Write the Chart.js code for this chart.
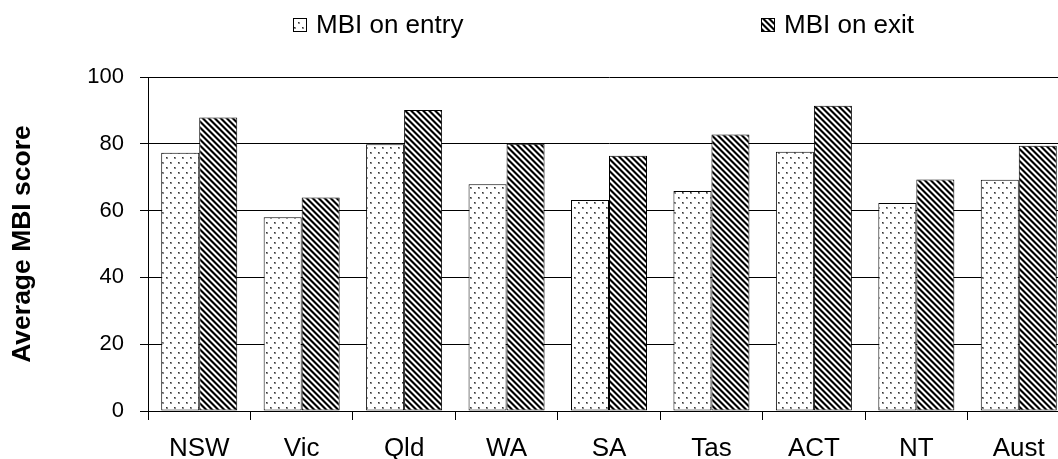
<!DOCTYPE html>
<html>
<head>
<meta charset="utf-8">
<script src="https://cdn.jsdelivr.net/npm/chart.js@4.4.1/dist/chart.umd.min.js"></script>
<style>
  html, body { margin: 0; padding: 0; background: #fff; overflow: hidden; }
  canvas { display: block; }
</style>
</head>
<body>
<canvas id="c" width="1070" height="459"></canvas>
<script>
// Average MBI score by state, on entry and on exit
const categories = ['NSW', 'Vic', 'Qld', 'WA', 'SA', 'Tas', 'ACT', 'NT', 'Aust'];
const entryScores = [77.3, 58.0, 79.9, 67.9, 63.2, 65.9, 77.6, 62.3, 69.2];
const exitScores  = [87.9, 63.9, 90.1, 80.0, 76.4, 82.8, 91.4, 69.3, 79.4];
const yTickValues = [0, 20, 40, 60, 80, 100];
const seriesNames = ['MBI on entry', 'MBI on exit'];
const axisTitle = 'Average MBI score';

const FONT = "'Liberation Sans', Arial, sans-serif";
const canvas = document.getElementById('c');
const mainCtx = canvas.getContext('2d');

// Sparse dot fill
function makeDots() {
  const t = document.createElement('canvas');
  t.width = 8; t.height = 10;
  const g = t.getContext('2d');
  g.fillStyle = '#fff'; g.fillRect(0, 0, 8, 10);
  g.fillStyle = '#8a8a8a';
  g.fillRect(2, 2, 2, 2); g.fillRect(6, 7, 2, 2);
  g.fillStyle = '#333';
  g.fillRect(2, 2, 1, 1); g.fillRect(6, 7, 1, 1);
  return mainCtx.createPattern(t, 'repeat');
}

// Downward diagonal stripes
function makeStripes() {
  const n = 6;
  const t = document.createElement('canvas');
  t.width = n; t.height = n;
  const g = t.getContext('2d');
  const shades = ['#000', '#000', '#808080', '#fff', '#fff', '#808080'];
  for (let y = 0; y < n; y++) {
    for (let x = 0; x < n; x++) {
      g.fillStyle = shades[((x - y) % n + n) % n];
      g.fillRect(x, y, 1, 1);
    }
  }
  return mainCtx.createPattern(t, 'repeat');
}

const fills = [makeDots(), makeStripes()];

// Legend row across the top
const topLegend = {
  id: 'topLegend',
  afterDraw(chart) {
    const ctx = chart.ctx;
    const slots = [293, 761];
    ctx.save();
    ctx.font = `26px ${FONT}`;
    ctx.textBaseline = 'alphabetic';
    seriesNames.forEach((name, i) => {
      const x = slots[i];
      ctx.fillStyle = fills[i];
      ctx.fillRect(x, 18, 14, 14);
      ctx.strokeStyle = '#000';
      ctx.lineWidth = 1;
      ctx.strokeRect(x + 0.5, 18.5, 13, 13);
      ctx.fillStyle = '#000';
      ctx.fillText(name, x + 23, 33);
    });
    ctx.restore();
  }
};

new Chart(canvas, {
  type: 'bar',
  data: {
    labels: categories,
    datasets: [
      { label: seriesNames[0], data: entryScores, backgroundColor: fills[0] },
      { label: seriesNames[1], data: exitScores, backgroundColor: fills[1] }
    ]
  },
  options: {
    responsive: false,
    animation: false,
    devicePixelRatio: 1,
    layout: { padding: { top: 77, right: 0, bottom: 0, left: 0 } },
    datasets: {
      bar: {
        borderColor: '#000',
        borderWidth: 1,
        borderSkipped: false,
        categoryPercentage: 0.742,
        barPercentage: 1
      }
    },
    plugins: {
      legend: { display: false },
      tooltip: { enabled: false }
    },
    scales: {
      x: {
        grid: {
          offset: true,
          drawOnChartArea: false,
          drawTicks: true,
          tickLength: 9,
          color: '#000'
        },
        border: { display: true, color: '#000', width: 1 },
        ticks: {
          color: '#000',
          font: { family: FONT, size: 26 },
          padding: 13,
          maxRotation: 0
        },
        afterFit(scale) { scale.height = 48; }
      },
      y: {
        min: 0,
        max: 100,
        afterBuildTicks(scale) { scale.ticks = yTickValues.map(v => ({ value: v })); },
        grid: { color: '#000', tickLength: 8, drawTicks: true },
        border: { display: true, color: '#000', width: 1 },
        ticks: {
          color: '#000',
          font: { family: FONT, size: 22 },
          padding: 16
        },
        title: {
          display: true,
          text: axisTitle,
          color: '#000',
          font: { family: FONT, size: 26.5, weight: 'bold' },
          padding: { top: 7, bottom: 0 }
        },
        afterFit(scale) { scale.width = 148; }
      }
    }
  },
  plugins: [topLegend]
});
</script>
</body>
</html>
